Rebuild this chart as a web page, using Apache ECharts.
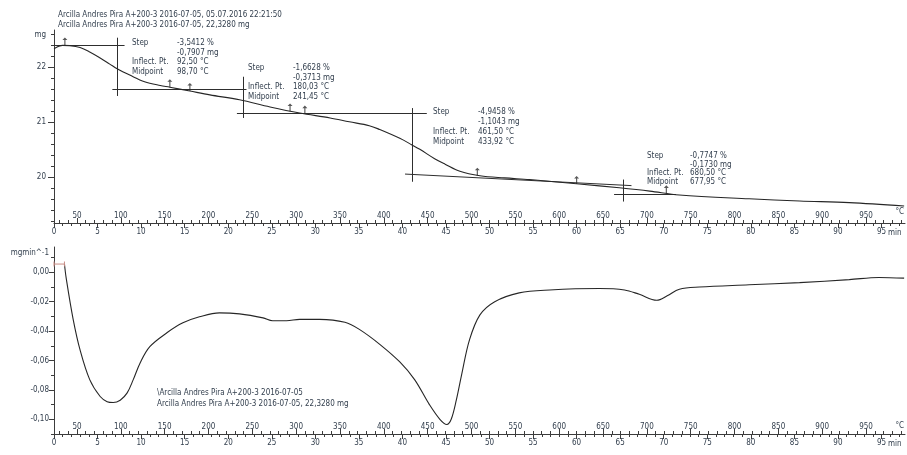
<!DOCTYPE html>
<html>
<head>
<meta charset="utf-8">
<script src="https://cdn.jsdelivr.net/npm/echarts@6/dist/echarts.min.js"></script>
<style>
  html, body { margin: 0; padding: 0; background: #fff; }
  #main { width: 907px; height: 455px; }
</style>
</head>
<body>
<div id="main"></div>
<script>
// ---- TG curve: time (min) / mass (mg) ----
const tgTime = [0, 1.0, 1.8, 3.0, 4.1, 5.3, 6.4, 7.3, 8.7, 10.4, 12.2, 13.3, 15.6, 17.9, 21.3, 24.8, 28.2, 31.7, 33.9, 36.2, 37.4, 39.7, 41.1, 42.0, 43.7, 44.9, 46.6, 48.9, 51.7, 54.6, 60.3, 64.9, 68.4, 71.8, 79.8, 85.6, 91.3, 97.6];
const tgMass = [22.33, 22.39, 22.385, 22.35, 22.27, 22.16, 22.05, 21.96, 21.85, 21.73, 21.66, 21.63, 21.56, 21.49, 21.40, 21.27, 21.16, 21.07, 21.00, 20.93, 20.86, 20.70, 20.58, 20.50, 20.33, 20.23, 20.10, 20.02, 19.98, 19.95, 19.87, 19.80, 19.74, 19.67, 19.60, 19.56, 19.53, 19.47];

// ---- DTG curve: time (min) / rate (mg/min) ----
const dtgTime = [1.2, 1.4, 2.2, 3.0, 4.1, 5.3, 6.1, 6.8, 7.6, 8.4, 9.1, 9.9, 11.0, 13.0, 14.8, 16.7, 19.0, 21.3, 24.0, 25.1, 26.7, 28.2, 30.5, 33.4, 35.1, 37.4, 39.7, 41.4, 43.1, 44.3, 45.1, 45.6, 46.2, 46.8, 47.7, 48.9, 50.6, 53.4, 56.9, 62.6, 65.5, 67.2, 69.2, 70.4, 71.8, 74.1, 79.8, 85.6, 91.3, 94.7, 97.6];
const dtgRate = [0.0056, -0.004, -0.032, -0.053, -0.073, -0.0845, -0.088, -0.0886, -0.087, -0.082, -0.073, -0.0615, -0.0506, -0.041, -0.0344, -0.0303, -0.0276, -0.0283, -0.031, -0.033, -0.033, -0.032, -0.032, -0.034, -0.039, -0.049, -0.061, -0.073, -0.090, -0.100, -0.1035, -0.100, -0.0866, -0.0696, -0.046, -0.029, -0.020, -0.014, -0.012, -0.011, -0.012, -0.015, -0.019, -0.016, -0.0115, -0.010, -0.0085, -0.007, -0.005, -0.0035, -0.004];

// ---- axis tick labels ----
const timeTicks = [0, 5, 10, 15, 20, 25, 30, 35, 40, 45, 50, 55, 60, 65, 70, 75, 80, 85, 90, 95];
const tempTicks = [50, 100, 150, 200, 250, 300, 350, 400, 450, 500, 550, 600, 650, 700, 750, 800, 850, 900, 950];
const massTicks = [20, 21, 22];
const rateTicks = [0, -0.02, -0.04, -0.06, -0.08, -0.10];

// ---- heating programme (temperature scale above the time scale) ----
const tempStart = 23.8;   // °C at t = 0
const heatRate = 9.935;   // K/min

// ---- step evaluation: baseline / tangent segments in (min, mg) ----
const step1Lines = [[[0, 22.40], [8.1, 22.40]], [[7.3, 22.53], [7.3, 21.47]], [[6.7, 21.60], [22.1, 21.60]]];
const step2Lines = [[[21.7, 21.82], [21.7, 21.07]], [[21.0, 21.155], [42.8, 21.155]]];
const step3Lines = [[[41.1, 21.25], [41.1, 19.91]], [[40.3, 20.05], [66.3, 19.84]]];
const step4Lines = [[[65.4, 19.95], [65.4, 19.55]], [[64.3, 19.69], [71.4, 19.69]]];

// evaluation limit markers on the TG curve
const limitTime = [1.25, 13.3, 15.6, 27.1, 28.8, 48.6, 60.0, 70.3];
const limitMass = [22.39, 21.63, 21.56, 21.19, 21.15, 20.02, 19.87, 19.70];

// start-of-curve bracket on the DTG curve
const dtgStartTime = [0, 1.2];
const dtgStartRate = [0.0056, 0.0056];

// step result texts
const stepResults = [
  ['-3,5412 %', '-0,7907 mg', '92,50 °C', '98,70 °C'],
  ['-1,6628 %', '-0,3713 mg', '180,03 °C', '241,45 °C'],
  ['-4,9458 %', '-1,1043 mg', '461,50 °C', '433,92 °C'],
  ['-0,7747 %', '-0,1730 mg', '680,50 °C', '677,95 °C']
];
const stepCaptions = ['Step', '', 'Inflect. Pt.', 'Midpoint'];

const headerLines = [
  'Arcilla Andres Pira A+200-3 2016-07-05, 05.07.2016 22:21:50',
  'Arcilla Andres Pira A+200-3 2016-07-05, 22,3280 mg'
];
const legendLines = [
  '\\Arcilla Andres Pira A+200-3 2016-07-05',
  'Arcilla Andres Pira A+200-3 2016-07-05, 22,3280 mg'
];

// ---------------------------------------------------------------
const T_MAX = 97.7;
const MASS_MIN = 19.16, MASS_MAX = 22.67;
const RATE_MIN = -0.11, RATE_MAX = 0.0172;

const TEXT = '#34404f';
const AXIS = '#3c3c3c';
const CURVE = '#262626';
const FONT = '"DejaVu Sans Condensed", "DejaVu Sans", sans-serif';
const FS = 8;

function seq(a, b, s) {
  const out = [];
  const n = Math.round((b - a) / s);
  for (let i = 0; i <= n; i++) out.push(+(a + i * s).toFixed(4));
  return out;
}
const timeMinor = seq(0, 97, 1);
const tempMinor = seq(30, 990, 10);
const massMinor = seq(19.2, 22.6, 0.2);
const rateMinor = seq(-0.11, 0.01, 0.01);

const tempMax = tempStart + heatRate * T_MAX;

function timeAxis(grid, ticks, len, main) {
  return {
    type: 'value', gridIndex: grid, position: 'bottom', offset: 0,
    min: 0, max: T_MAX,
    axisLine: { show: main, onZero: false, lineStyle: { color: AXIS, width: 1 } },
    axisTick: { show: true, inside: false, length: len, customValues: ticks, lineStyle: { color: AXIS, width: 1 } },
    axisLabel: { show: main, customValues: timeTicks, margin: 5, fontSize: FS, fontFamily: FONT, color: TEXT,
                 formatter: v => String(v) },
    splitLine: { show: false }
  };
}
function tempAxis(grid, ticks, len, main) {
  return {
    type: 'value', gridIndex: grid, position: 'bottom', offset: 0,
    min: tempStart, max: tempMax,
    axisLine: { show: false, onZero: false },
    axisTick: { show: true, inside: true, length: len, customValues: ticks, lineStyle: { color: AXIS, width: 1 } },
    axisLabel: { show: main, inside: true, customValues: tempTicks, margin: 3, fontSize: FS, fontFamily: FONT, color: TEXT,
                 formatter: v => String(v) },
    splitLine: { show: false }
  };
}
function yAxis(grid, min, max, ticks, len, labels, fmt, main, margin) {
  return {
    type: 'value', gridIndex: grid, position: 'left', offset: 0, min, max,
    axisLine: { show: main, onZero: false, lineStyle: { color: AXIS, width: 1 } },
    axisTick: { show: true, inside: false, length: len, customValues: ticks, lineStyle: { color: AXIS, width: 1 } },
    axisLabel: { show: main, customValues: labels, margin, fontSize: FS, fontFamily: FONT, color: TEXT, formatter: fmt },
    splitLine: { show: false }
  };
}
const rateFmt = v => (Math.abs(v) < 1e-9 ? '0,00' : v.toFixed(2).replace('.', ','));
const massFmt = v => String(v);

function textEl(str, x, y, align) {
  return {
    type: 'text', x, y, silent: true,
    style: { text: str, fill: TEXT, fontSize: FS, fontFamily: FONT, align: align || 'left', verticalAlign: 'middle' }
  };
}

// positions of the four result blocks (caption column, value column, first row, row pitch)
const blockPos = [[132, 177, 43, 9.7], [248, 293, 68, 9.7], [433, 478, 112, 10], [647, 690, 156, 8.7]];
const graphics = [];
headerLines.forEach((s, i) => graphics.push(textEl(s, 58, 15 + i * 10)));
legendLines.forEach((s, i) => graphics.push(textEl(s, 157, 393 + i * 10.5)));
stepResults.forEach((vals, b) => {
  const [cx, vx, y0, dy] = blockPos[b];
  stepCaptions.forEach((c, r) => { if (c) graphics.push(textEl(c, cx, y0 + r * dy)); });
  vals.forEach((v, r) => graphics.push(textEl(v, vx, y0 + r * dy)));
});
graphics.push(textEl('mg', 46, 35, 'right'));
graphics.push(textEl('mgmin^-1', 49, 253, 'right'));
graphics.push(textEl('°C', 904, 212, 'right'));
graphics.push(textEl('min', 888, 233));
graphics.push(textEl('°C', 904, 426, 'right'));
graphics.push(textEl('min', 888, 444));

const arrowPath = 'path://M5,0 L8.5,4.5 L5.8,4.5 L5.8,14 L4.2,14 L4.2,4.5 L1.5,4.5 Z';
const segs = [].concat(step1Lines, step2Lines, step3Lines, step4Lines).map(c => ({ coords: c }));

const option = {
  animation: false,
  backgroundColor: '#ffffff',
  grid: [
    { left: 54, right: 2, top: 30, height: 193 },
    { left: 54, right: 2, top: 247, height: 187 }
  ],
  xAxis: [
    timeAxis(0, timeMinor, 3, true), tempAxis(0, tempMinor, 3, true),
    timeAxis(0, timeTicks, 5, false), tempAxis(0, tempTicks, 5, false),
    timeAxis(1, timeMinor, 3, true), tempAxis(1, tempMinor, 3, true),
    timeAxis(1, timeTicks, 5, false), tempAxis(1, tempTicks, 5, false)
  ],
  yAxis: [
    yAxis(0, MASS_MIN, MASS_MAX, massMinor, 3, massTicks, massFmt, true, 8),
    yAxis(0, MASS_MIN, MASS_MAX, massTicks, 6, massTicks, massFmt, false, 8),
    yAxis(1, RATE_MIN, RATE_MAX, rateMinor, 3, rateTicks, rateFmt, true, 5),
    yAxis(1, RATE_MIN, RATE_MAX, rateTicks, 5, rateTicks, rateFmt, false, 5)
  ],
  series: [
    {
      name: 'TG', type: 'line', xAxisIndex: 0, yAxisIndex: 0,
      data: tgTime.map((t, i) => [t, tgMass[i]]),
      smooth: 0.35, symbol: 'none', lineStyle: { color: CURVE, width: 1.1 }, silent: true
    },
    {
      name: 'Steps', type: 'lines', coordinateSystem: 'cartesian2d', xAxisIndex: 0, yAxisIndex: 0,
      data: segs, lineStyle: { color: '#2e2e2e', width: 1, opacity: 1 }, silent: true
    },
    {
      name: 'Limits', type: 'scatter', xAxisIndex: 0, yAxisIndex: 0,
      data: limitTime.map((t, i) => [t, limitMass[i]]),
      symbol: arrowPath, symbolSize: [5, 8], symbolOffset: [0, -4],
      itemStyle: { color: '#2e2e2e' }, silent: true
    },
    {
      name: 'DTG', type: 'line', xAxisIndex: 4, yAxisIndex: 2,
      data: dtgTime.map((t, i) => [t, dtgRate[i]]),
      smooth: 0.35, symbol: 'none', lineStyle: { color: CURVE, width: 1.1 }, silent: true
    },
    {
      name: 'DTG start', type: 'line', xAxisIndex: 4, yAxisIndex: 2,
      data: dtgStartTime.map((t, i) => [t, dtgStartRate[i]]),
      symbol: 'rect', symbolSize: [1, 5], showSymbol: true,
      lineStyle: { color: '#c98e86', width: 1 }, itemStyle: { color: '#c98e86' }, silent: true
    }
  ],
  graphic: { elements: graphics }
};

const chart = echarts.init(document.getElementById('main'), null, { renderer: 'canvas' });
chart.setOption(option);
</script>
</body>
</html>
